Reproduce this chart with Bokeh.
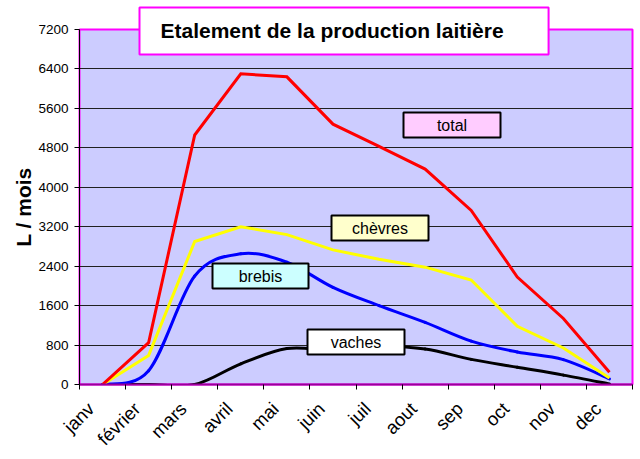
from math import pi
from bokeh.plotting import figure
from bokeh.models import Range1d, FixedTicker, Label, BoxAnnotation
from bokeh.embed import file_html
from bokeh.resources import INLINE

# ---- data ----
months = ["janv", "février", "mars", "avril", "mai", "juin",
          "juil", "aout", "sep", "oct", "nov", "dec"]
y_ticks = [0, 800, 1600, 2400, 3200, 4000, 4800, 5600, 6400, 7200]
total = [0, 850, 5060, 6300, 6240, 5280, 4830, 4370, 3530, 2180, 1340, 250]
chevres = [0, 590, 2900, 3200, 3040, 2730, 2540, 2380, 2120, 1180, 740, 130]
brebis = [0, 280, 2200, 2650, 2480, 1970, 1600, 1260, 880, 660, 505, 115]
vaches = [0, 0, 0, 420, 730, 700, 770, 720, 510, 350, 190, 10]

FONT = "Liberation Sans"
TITLE = "Etalement de la production laitière"

xs = [i + 0.5 for i in range(len(months))]          # category centres
label_pos = [i + 0.25 for i in range(len(months))]  # rotated labels end just left of centre

p = figure(width=634, height=459,
           x_range=Range1d(0, len(months)), y_range=Range1d(0, 7200),
           output_backend="svg", toolbar_location=None,
           min_border_left=79, min_border_right=2,
           min_border_top=29, min_border_bottom=73,
           background_fill_color="#CCCCFF", border_fill_color="white")

p.outline_line_color = "#FF00FF"
p.outline_line_width = 2

# title text in a white box with magenta border, reaching into the plot
p.title.text = TITLE
p.title.text_font = FONT
p.title.text_font_style = "bold"
p.title.text_font_size = "21px"
p.title.text_color = "black"
p.title.align = "left"
p.title.background_fill_color = "white"
p.title.border_line_color = "#FF00FF"
p.title.border_line_width = 2
p.title.padding = dict(left=21, right=45, top=11, bottom=13)
p.title.offset = 60
p.title.standoff = -50

# grid
p.xgrid.visible = False
p.ygrid.ticker = FixedTicker(ticks=y_ticks)
p.ygrid.grid_line_color = "#202020"
p.ygrid.grid_line_width = 1

# y axis
p.yaxis.ticker = FixedTicker(ticks=y_ticks)
p.yaxis.axis_line_color = "black"
p.yaxis.axis_line_width = 1
p.yaxis.major_tick_out = 5
p.yaxis.major_tick_in = 0
p.yaxis.minor_tick_line_color = None
p.yaxis.major_label_text_font = FONT
p.yaxis.major_label_text_font_size = "13.5px"
p.yaxis.major_label_text_color = "black"
p.yaxis.major_label_standoff = 6
p.yaxis.axis_label = "L / mois"
p.yaxis.axis_label_text_font = FONT
p.yaxis.axis_label_text_font_style = "bold"
p.yaxis.axis_label_text_font_size = "21px"
p.yaxis.axis_label_text_color = "black"
p.yaxis.axis_label_standoff = 0

# x axis: ticks between categories, rotated month labels
p.xaxis.ticker = FixedTicker(ticks=label_pos, minor_ticks=list(range(len(months) + 1)))
p.xaxis.major_label_overrides = {x: m for x, m in zip(label_pos, months)}
p.xaxis.major_tick_line_color = None
p.xaxis.major_tick_out = 0
p.xaxis.major_tick_in = 0
p.xaxis.minor_tick_line_color = "black"
p.xaxis.minor_tick_out = 5
p.xaxis.minor_tick_in = 0
p.xaxis.axis_line_color = "#990099"
p.xaxis.axis_line_width = 2
p.xaxis.major_label_orientation = pi / 4
p.xaxis.major_label_text_font = FONT
p.xaxis.major_label_text_font_size = "18.5px"
p.xaxis.major_label_text_color = "black"
p.xaxis.major_label_standoff = 16


def smooth(xv, yv):
    n = len(xv)
    out = dict(x0=[], y0=[], x1=[], y1=[], cx0=[], cy0=[], cx1=[], cy1=[])
    for i in range(n - 1):
        a = max(i - 1, 0)
        d = min(i + 2, n - 1)
        out["x0"].append(xv[i]); out["y0"].append(yv[i])
        out["x1"].append(xv[i + 1]); out["y1"].append(yv[i + 1])
        out["cx0"].append(xv[i] + (xv[i + 1] - xv[a]) / 6)
        out["cy0"].append(yv[i] + (yv[i + 1] - yv[a]) / 6)
        out["cx1"].append(xv[i + 1] - (xv[d] - xv[i]) / 6)
        out["cy1"].append(yv[i + 1] - (yv[d] - yv[i]) / 6)
    return out


# series (smoothed: vaches, brebis; straight: chèvres, total)
p.bezier(line_color="black", line_width=3, line_cap="round", **smooth(xs, vaches))
p.bezier(line_color="#0000FF", line_width=3, line_cap="round", **smooth(xs, brebis))
p.line(xs, chevres, line_color="#FFFF00", line_width=3, line_join="miter")
p.line(xs, total, line_color="#FF0000", line_width=3, line_join="miter")

# series text boxes (screen units, relative to plot frame bottom-left)
boxes = [
    ("total", "#FFCCFF", 324, 421, 247, 272),
    ("chèvres", "#FFFFCC", 252, 349, 144, 169),
    ("brebis", "#CCFFFF", 133, 229, 96, 121),
    ("vaches", "#FFFFFF", 228, 325, 30, 55),
]
for txt, fill, l, r, b, t in boxes:
    p.add_layout(BoxAnnotation(left=l, right=r, bottom=b, top=t,
                               left_units="screen", right_units="screen",
                               bottom_units="screen", top_units="screen",
                               fill_color=fill, fill_alpha=1,
                               line_color="black", line_width=2, line_alpha=1))
    p.add_layout(Label(x=(l + r) / 2, y=(b + t) / 2, x_units="screen", y_units="screen",
                       text=txt, text_align="center", text_baseline="middle",
                       text_font=FONT, text_font_size="16px", text_color="black"))

open("out.html", "w").write(file_html(p, INLINE))
